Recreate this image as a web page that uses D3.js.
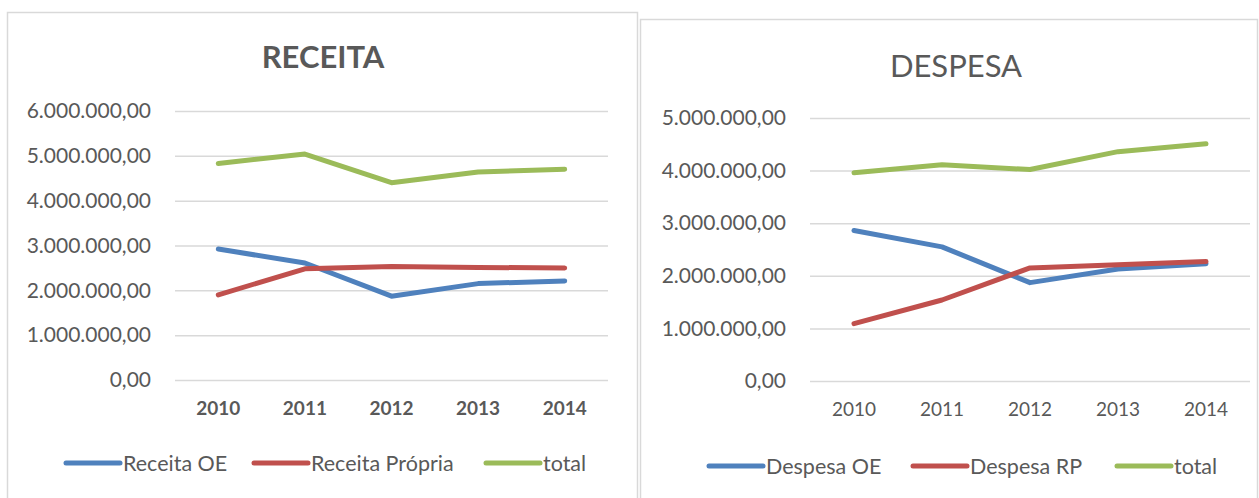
<!DOCTYPE html>
<html lang="pt">
<head>
<meta charset="utf-8">
<script src="https://cdn.jsdelivr.net/npm/d3@7"></script>
<style>
  body { margin: 0; background: #fff; }
  text { font-family: Lato, "Open Sans", sans-serif; fill: #595959; }
</style>
</head>
<body>
<script>
  // valores
  var years = ["2010", "2011", "2012", "2013", "2014"];

  var receitaOE      = [2920000, 2610000, 1870000, 2150000, 2210000];
  var receitaPropria = [1900000, 2480000, 2530000, 2510000, 2500000];
  var receitaTotal   = [4830000, 5040000, 4400000, 4640000, 4700000];
  var receitaTicks   = [0, 1000000, 2000000, 3000000, 4000000, 5000000, 6000000];

  var despesaOE    = [2860000, 2550000, 1870000, 2130000, 2230000];
  var despesaRP    = [1090000, 1540000, 2150000, 2210000, 2270000];
  var despesaTotal = [3960000, 4110000, 4020000, 4360000, 4510000];
  var despesaTicks = [0, 1000000, 2000000, 3000000, 4000000, 5000000];

  var colors = ["#4F81BD", "#C0504D", "#9BBB59"];

  var w = 1259, h = 498;

  var locale = d3.formatLocale({ decimal: ",", thousands: ".", grouping: [3], currency: ["", ""] });
  var fmt = locale.format(",.2f");

  var svg = d3.select("body").append("svg")
    .attr("width", w)
    .attr("height", h);

  function drawChart(cfg) {
    var g = svg.append("g");

    // moldura
    g.append("rect")
      .attr("x", cfg.box[0] + 0.5)
      .attr("y", cfg.box[1] + 0.5)
      .attr("width", cfg.box[2])
      .attr("height", cfg.box[3])
      .attr("fill", "#fff")
      .attr("stroke", "#D9D9D9")
      .attr("stroke-width", 1.5);

    g.append("text")
      .attr("x", cfg.titleX)
      .attr("y", cfg.titleY)
      .attr("text-anchor", "middle")
      .style("font-size", cfg.titleSize + "px")
      .style("font-weight", cfg.titleBold ? "bold" : "normal")
      .text(cfg.title);

    var xScale = d3.scaleBand()
      .domain(years)
      .range([cfg.left, cfg.right]);

    var yScale = d3.scaleLinear()
      .domain([0, d3.max(cfg.ticks)])
      .range([cfg.bottom, cfg.top]);

    // grelha + rótulos do eixo y
    var yAxis = d3.axisLeft(yScale)
      .tickValues(cfg.ticks)
      .tickFormat(fmt)
      .tickSize(-(cfg.right - cfg.left))
      .tickPadding(24);

    var ya = g.append("g")
      .attr("transform", "translate(" + cfg.left + ",0)")
      .call(yAxis);
    ya.select(".domain").remove();
    ya.selectAll(".tick line").attr("stroke", "#D9D9D9").attr("stroke-width", 1.5);
    ya.selectAll(".tick text")
      .style("font-size", "21px")
      .style("fill", "#595959");

    var xAxis = d3.axisBottom(xScale).tickSize(0).tickPadding(cfg.xPad);
    var xa = g.append("g")
      .attr("transform", "translate(0," + cfg.bottom + ")")
      .call(xAxis);
    xa.select(".domain").remove();
    xa.selectAll(".tick text")
      .style("font-size", "19px")
      .style("font-weight", cfg.yearBold ? "bold" : "normal")
      .style("fill", "#595959");

    var line = d3.line()
      .x(function(d, i) { return xScale(years[i]) + xScale.bandwidth() / 2; })
      .y(function(d) { return yScale(d); });

    cfg.series.forEach(function(s, i) {
      g.append("path")
        .datum(s)
        .attr("d", line)
        .attr("fill", "none")
        .attr("stroke", colors[i])
        .attr("stroke-width", 5)
        .attr("stroke-linecap", "round")
        .attr("stroke-linejoin", "round");
    });

    // legenda
    cfg.names.forEach(function(name, i) {
      var lx = cfg.legendX[i];
      g.append("line")
        .attr("x1", lx).attr("x2", lx + 54)
        .attr("y1", cfg.legendY).attr("y2", cfg.legendY)
        .attr("stroke", colors[i])
        .attr("stroke-width", 5)
        .attr("stroke-linecap", "round");
      g.append("text")
        .attr("x", lx + 57)
        .attr("y", cfg.legendY)
        .attr("dy", "0.35em")
        .style("font-size", "21.5px")
        .text(name);
    });
  }

  drawChart({
    box: [7, 12, 630, 500],
    title: "RECEITA", titleX: 323, titleY: 68, titleSize: 31, titleBold: true,
    left: 175, right: 608, top: 111, bottom: 380,
    ticks: receitaTicks, xPad: 22, yearBold: true,
    series: [receitaOE, receitaPropria, receitaTotal],
    names: ["Receita OE", "Receita Própria", "total"],
    legendX: [66, 254, 486], legendY: 463
  });

  drawChart({
    box: [640, 19, 617, 500],
    title: "DESPESA", titleX: 956, titleY: 77, titleSize: 31, titleBold: false,
    left: 810, right: 1250, top: 118, bottom: 381,
    ticks: despesaTicks, xPad: 22, yearBold: false,
    series: [despesaOE, despesaRP, despesaTotal],
    names: ["Despesa OE", "Despesa RP", "total"],
    legendX: [709, 913, 1117], legendY: 466
  });
</script>
</body>
</html>
